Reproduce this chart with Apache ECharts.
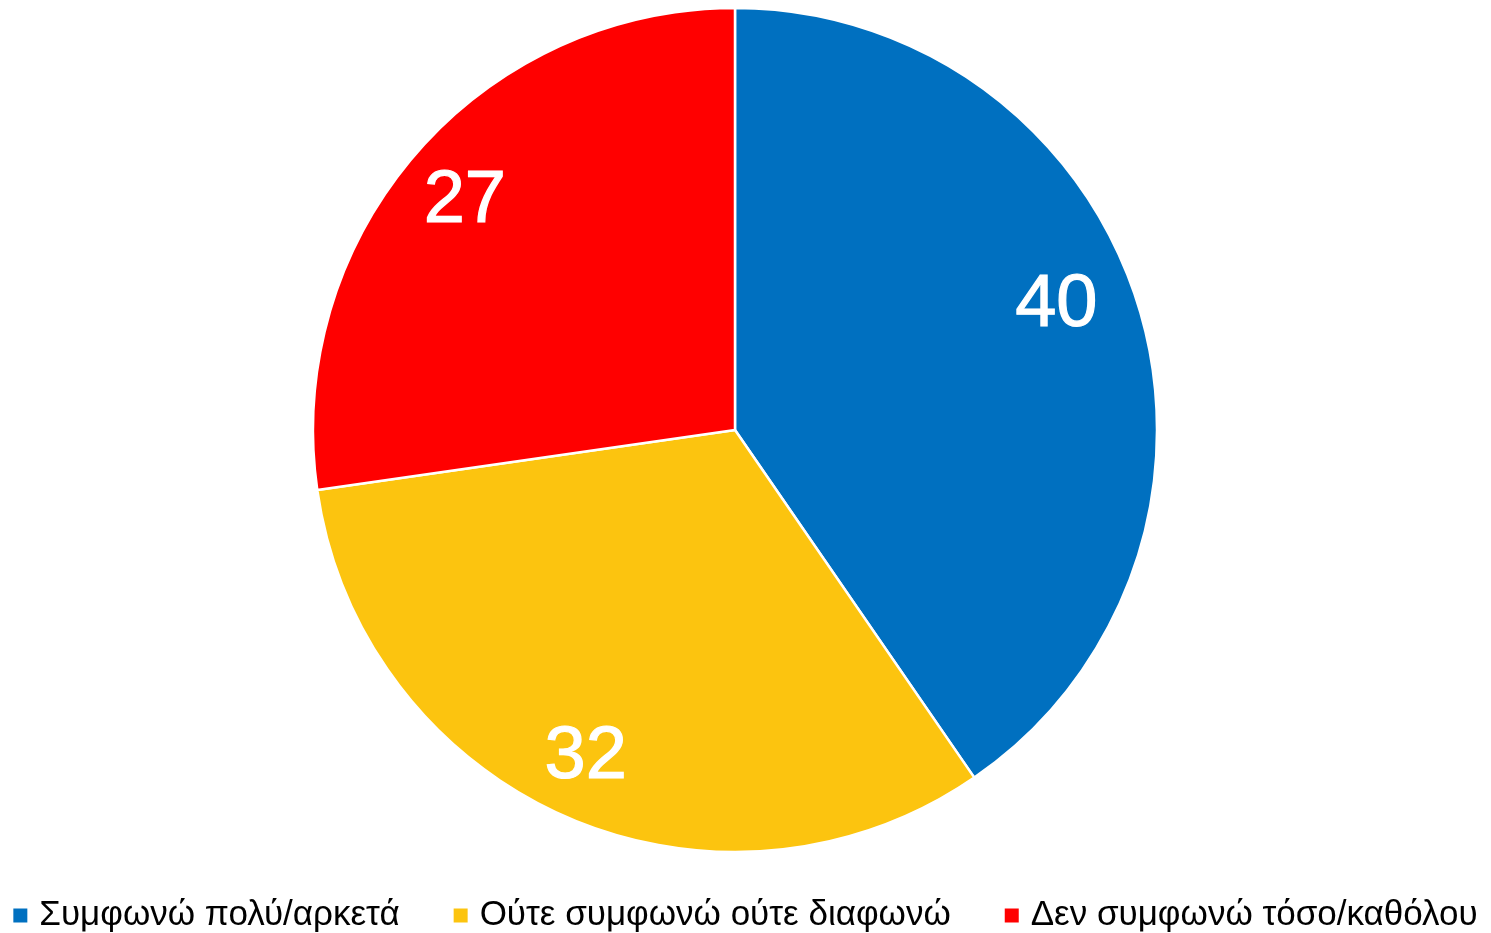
<!DOCTYPE html>
<html lang="el">
<head>
    <meta charset="UTF-8">
    <title>Pie</title>
    <style>
        html, body { margin: 0; padding: 0; background: #fff; }
        #box { width: 1491px; height: 933px; }
    </style>
    <script src="https://cdn.jsdelivr.net/npm/echarts@6/dist/echarts.min.js"></script>
</head>
<body>
    <div id="box"></div>
    <script>
        const categories = ['Συμφωνώ πολύ/αρκετά', 'Ούτε συμφωνώ ούτε διαφωνώ', 'Δεν συμφωνώ τόσο/καθόλου']
        const values = [40, 32, 27]
        const colors = ['#0070c0', '#fcc40f', '#ff0000']

        const myChart = echarts.init(document.querySelector('#box'))

        const R = 422
        const center = [735, 430]
        // small nudges so the numbers sit where the original puts them
        const labelNudge = [[-20, -18], [-6, 0], [0, 6]]

        const option = {
            animation: false,
            legend: {
                bottom: 0,
                left: 'center',
                width: 1491,
                padding: 0,
                icon: 'rect',
                itemWidth: 14,
                itemHeight: 14,
                itemGap: 54,
                itemStyle: { borderWidth: 0 },
                data: categories.map((name, i) => ({
                    name: name,
                    itemStyle: { color: colors[i], borderWidth: 0 }
                })),
                textStyle: {
                    fontFamily: 'Liberation Sans',
                    fontSize: 35,
                    color: '#000',
                    padding: [0, 0, 0, 7]
                }
            },
            series: [{
                type: 'pie',
                center: center,
                radius: [0, R],
                startAngle: 90,
                clockwise: true,
                data: categories.map((name, i) => ({
                    name: name,
                    value: values[i],
                    itemStyle: { color: colors[i] }
                })),
                itemStyle: { borderColor: '#fff', borderWidth: 2.5 },
                label: { show: false },
                labelLine: { show: false }
            }, {
                // label-only ring so the numbers sit near the rim
                type: 'pie',
                center: center,
                radius: [R * 0.68, R],
                startAngle: 90,
                clockwise: true,
                silent: true,
                data: categories.map((name, i) => ({
                    name: name,
                    value: values[i],
                    itemStyle: { color: 'rgba(0,0,0,0)' },
                    label: { offset: labelNudge[i] }
                })),
                label: {
                    show: true,
                    position: 'inside',
                    formatter: '{c}',
                    color: '#fff',
                    fontFamily: 'Liberation Sans',
                    fontSize: 74,
                    textBorderColor: '#fff',
                    textBorderWidth: 1.2
                },
                labelLine: { show: false }
            }]
        }

        myChart.setOption(option)
    </script>
</body>
</html>
